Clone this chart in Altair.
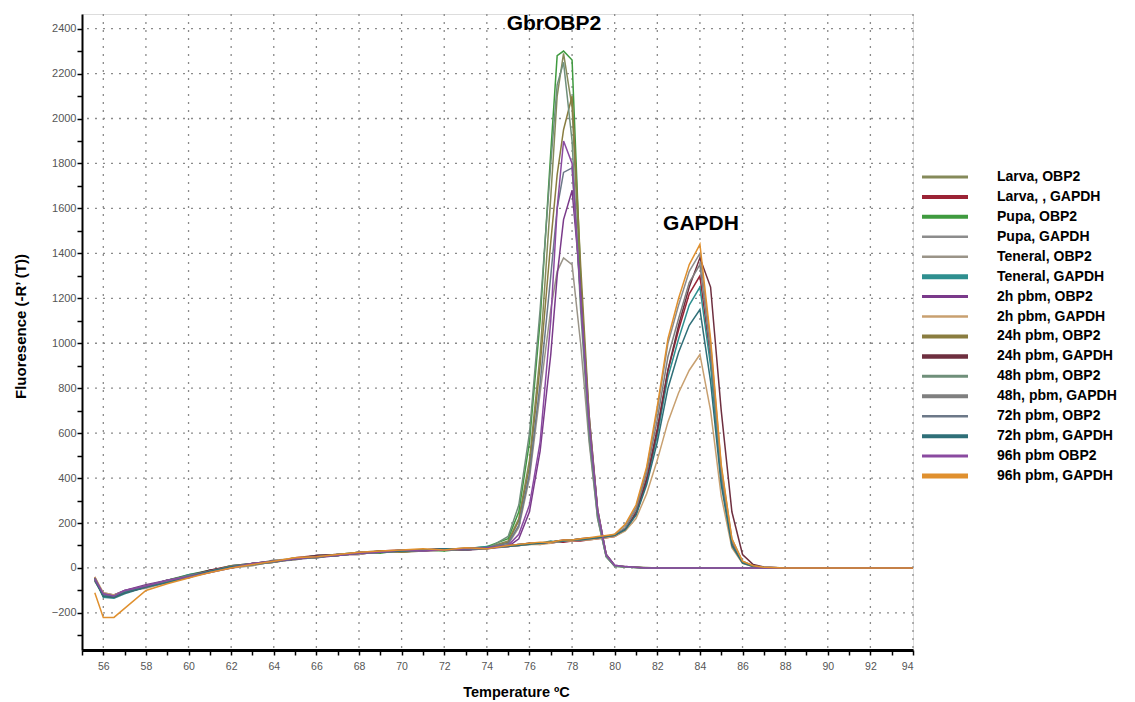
import altair as alt
import pandas as pd

# Temperature grid (°C) at which the curves were read
temps = [55.6, 56, 56.5, 57, 58, 59, 60, 61, 62, 63, 64, 65, 66, 67, 68, 69, 70, 71, 72, 73, 74, 75,
         75.5, 76, 76.5, 77, 77.3, 77.6, 78, 78.4, 78.8, 79.2, 79.6, 80,
         80.5, 81, 81.5, 82, 82.5, 83, 83.5, 84, 84.5, 85, 85.5, 86, 86.5, 87, 88, 90, 92, 94]

series_names = [
    "Larva, OBP2", "Larva, , GAPDH", "Pupa, OBP2", "Pupa, GAPDH",
    "Teneral, OBP2", "Teneral, GAPDH", "2h pbm, OBP2", "2h pbm, GAPDH",
    "24h pbm, OBP2", "24h pbm, GAPDH", "48h pbm, OBP2", "48h, pbm, GAPDH",
    "72h pbm, OBP2", "72h pbm, GAPDH", "96h pbm OBP2", "96h pbm, GAPDH",
]

series_colors = [
    "#858a5a", "#9b2335", "#3f9a3f", "#8c8c8c",
    "#9a9488", "#2e8f8f", "#7a3a8a", "#c8a070",
    "#8a7d40", "#6e2f3f", "#6f8f7a", "#7f7f7f",
    "#6c7888", "#2f6f78", "#8a4aa0", "#e0902e",
]
# stroke width of each legend swatch
swatch_widths = [3, 4, 4, 2.5, 2.5, 5, 3, 2.5, 4, 4.5, 3, 4, 2.5, 4, 3, 5]

larva_obp2 = [-50,-115,-125,-105,-85,-60,-35,-15,5,15,30,40,50,55,65,70,72,78,80,82,90,120,
              220,480,950,1650,2100,2290,2050,1250,650,260,60,10,
              5,3,2,0,0,0,0,0,0,0,0,0,0,0,0,0,0,0]
larva_gapdh = [-40,-120,-130,-110,-80,-65,-40,-10,10,20,25,45,55,60,60,75,80,75,85,80,90,95,
               100,105,110,110,115,115,120,120,125,130,135,140,
               170,250,400,620,880,1060,1220,1300,930,400,110,25,8,2,0,0,0,0]
pupa_obp2 = [-45,-125,-130,-110,-85,-55,-30,-10,0,20,25,45,45,60,70,65,80,80,75,85,95,130,
             250,560,1100,1850,2280,2300,2260,1300,620,230,50,8,
             4,2,1,0,0,0,0,0,0,0,0,0,0,0,0,0,0,0]
pupa_gapdh = [-55,-110,-120,-100,-80,-60,-35,-15,5,15,35,40,50,60,70,75,70,80,80,90,85,100,
              100,110,105,115,120,120,125,125,130,135,140,150,
              190,270,440,700,1000,1170,1320,1400,1000,450,130,30,10,3,0,0,0,0]
teneral_obp2 = [-60,-120,-125,-105,-90,-65,-40,-20,0,10,30,35,55,60,60,75,75,75,85,80,85,105,
                180,400,780,1150,1320,1380,1350,1000,560,220,50,10,
                5,2,0,0,0,0,0,0,0,0,0,0,0,0,0,0,0,0]
teneral_gapdh = [-50,-130,-135,-115,-85,-60,-30,-15,10,20,30,40,55,55,65,70,80,80,80,85,95,100,
                 105,105,110,120,115,120,125,130,130,135,140,145,
                 170,240,380,590,850,1020,1170,1250,900,390,100,25,8,2,0,0,0,0]
h2_obp2 = [-45,-115,-120,-100,-75,-55,-45,-10,0,20,30,40,45,55,70,70,75,80,85,80,85,95,
           130,250,520,950,1300,1550,1680,1250,680,250,60,12,
           6,3,0,0,0,0,0,0,0,0,0,0,0,0,0,0,0,0]
h2_gapdh = [-40,-110,-120,-105,-80,-60,-35,-20,5,15,30,45,50,55,65,70,70,80,80,85,90,95,
            100,105,105,110,115,120,120,125,125,130,135,140,
            165,220,330,480,650,780,880,950,700,320,90,20,6,2,0,0,0,0]
h24_obp2 = [-55,-120,-130,-110,-80,-65,-35,-15,10,15,25,40,50,55,65,75,70,75,80,85,90,115,
            210,450,900,1450,1750,1950,2100,1350,680,260,60,10,
            5,3,0,0,0,0,0,0,0,0,0,0,0,0,0,0,0,0]
h24_gapdh = [-45,-125,-130,-110,-85,-55,-35,-10,5,20,30,40,55,60,65,75,75,80,85,80,90,100,
             105,110,110,115,120,125,125,130,135,135,140,145,
             175,240,390,610,880,1080,1250,1380,1250,700,250,60,15,4,0,0,0,0]
h48_obp2 = [-50,-120,-125,-105,-85,-60,-40,-15,5,15,30,40,45,60,65,70,75,80,80,85,85,140,
            280,600,1150,1800,2150,2250,1900,1150,580,220,50,8,
            4,2,0,0,0,0,0,0,0,0,0,0,0,0,0,0,0,0]
h48_gapdh = [-50,-115,-125,-105,-80,-60,-35,-15,5,20,30,40,50,60,65,70,75,80,80,85,90,100,
             105,110,110,115,115,120,125,130,130,135,140,145,
             180,260,420,660,940,1110,1270,1350,960,420,120,28,9,3,0,0,0,0]
h72_obp2 = [-45,-120,-125,-105,-80,-55,-35,-15,5,15,25,40,50,55,70,70,75,75,85,80,90,110,
            190,420,820,1300,1600,1760,1780,1200,620,240,55,10,
            5,2,0,0,0,0,0,0,0,0,0,0,0,0,0,0,0,0]
h72_gapdh = [-55,-125,-130,-110,-85,-65,-40,-15,5,15,30,40,50,55,65,70,75,80,85,85,90,95,
             100,105,110,115,120,120,125,125,130,135,140,145,
             170,235,370,560,800,960,1080,1150,830,370,100,22,7,2,0,0,0,0]
h96_obp2 = [-50,-115,-125,-100,-80,-55,-40,-20,0,20,30,40,50,55,65,70,80,75,80,85,90,100,
            150,280,560,1100,1600,1900,1800,1200,650,260,60,12,
            6,3,0,0,0,0,0,0,0,0,0,0,0,0,0,0,0,0]
h96_gapdh = [-110,-220,-220,-180,-100,-70,-45,-20,0,15,30,45,50,60,70,75,80,85,80,90,85,100,
             105,110,115,115,120,125,125,130,135,140,145,150,
             195,280,450,720,1020,1200,1350,1440,1020,460,130,30,10,3,0,0,0,0]

series_values = [
    larva_obp2, larva_gapdh, pupa_obp2, pupa_gapdh,
    teneral_obp2, teneral_gapdh, h2_obp2, h2_gapdh,
    h24_obp2, h24_gapdh, h48_obp2, h48_gapdh,
    h72_obp2, h72_gapdh, h96_obp2, h96_gapdh,
]

# annotation labels
ann_x = [77.15, 84.05]
ann_y = [2422, 1532]
ann_text = ["GbrOBP2", "GAPDH"]

# axis tick / grid values
x_ticks = list(range(55, 95))
y_ticks = list(range(-300, 2401, 100))
x_grid = list(range(56, 95, 2))
y_grid = list(range(-200, 2401, 200))

rows = []
for name, vals in zip(series_names, series_values):
    assert len(vals) == len(temps), name
    for t, v in zip(temps, vals):
        rows.append({"Temperature": t, "Fluorescence": v, "Sample": name})
df = pd.DataFrame(rows)
ann_df = pd.DataFrame({"x": ann_x, "y": ann_y, "t": ann_text})
leg_df = pd.DataFrame({"Sample": series_names, "w": swatch_widths})

FONT = "Liberation Sans"
x_scale = alt.Scale(domain=[55, 94], nice=False, zero=False)
y_scale = alt.Scale(domain=[-365, 2465], nice=False, zero=False)
color_scale = alt.Scale(domain=series_names, range=series_colors)

x_axis = alt.Axis(
    values=x_ticks, labelOverlap=False,
    labelExpr="datum.value % 2 === 0 ? datum.label : ''",
    title="Temperature ºC",
    titleFont=FONT, titleFontSize=14.5, titleFontWeight="bold", titleColor="black",
    titleX=434, titleY=42, titleBaseline="middle", titleAlign="center",
    labelFont=FONT, labelFontSize=10.5, labelColor="#555555", labelPadding=6,
    domainColor="black", domainWidth=3, tickColor="black", tickWidth=1.5, tickSize=5,
    grid=False,
)
y_axis = alt.Axis(
    values=y_ticks, labelOverlap=False,
    labelExpr="datum.value % 200 === 0 ? datum.label : ''",
    format="d",
    title="Fluoresence (-R’ (T))",
    titleFont=FONT, titleFontSize=15, titleFontWeight="bold", titleColor="black",
    titleAngle=270, titleX=-62, titleY=312, titleBaseline="middle", titleAlign="center",
    labelFont=FONT, labelFontSize=11, labelColor="#555555", labelPadding=1,
    domainColor="black", domainWidth=2, tickColor="black", tickWidth=1.5, tickSize=5,
    grid=False,
)

grid_style = dict(color="#8a8a8a", strokeDash=[2, 6], strokeWidth=1.3)
grid_x = alt.Chart(pd.DataFrame({"g": x_grid})).mark_rule(**grid_style).encode(
    x=alt.X("g:Q", scale=x_scale, axis=x_axis)
)
grid_y = alt.Chart(pd.DataFrame({"g": y_grid})).mark_rule(**grid_style).encode(
    y=alt.Y("g:Q", scale=y_scale, axis=y_axis)
)

lines = alt.Chart(df).mark_line(strokeWidth=1.5).encode(
    x=alt.X("Temperature:Q", scale=x_scale, axis=x_axis),
    y=alt.Y("Fluorescence:Q", scale=y_scale, axis=y_axis),
    color=alt.Color("Sample:N", sort=series_names, scale=color_scale, legend=None),
)

labels = alt.Chart(ann_df).mark_text(
    font=FONT, fontSize=21, fontWeight="bold", color="black", baseline="middle", align="center"
).encode(
    x=alt.X("x:Q", scale=x_scale, axis=x_axis),
    y=alt.Y("y:Q", scale=y_scale, axis=y_axis),
    text="t:N",
)

# legend drawn beside the plot
leg_y = alt.Y("Sample:N", sort=series_names,
              scale=alt.Scale(type="point", domain=series_names, range=[163, 462], padding=0),
              axis=None)
leg_rules = alt.Chart(leg_df).mark_rule().encode(
    x=alt.value(840), x2=alt.value(886),
    y=leg_y,
    color=alt.Color("Sample:N", sort=series_names, scale=color_scale, legend=None),
    strokeWidth=alt.StrokeWidth("w:Q", scale=None, legend=None),
)
leg_text = alt.Chart(leg_df).mark_text(
    font=FONT, fontSize=14, fontWeight="bold", color="black", align="left", baseline="middle"
).encode(
    x=alt.value(915),
    y=leg_y,
    text="Sample:N",
)

main = alt.layer(grid_x, grid_y, lines, labels)
legend = alt.layer(leg_rules, leg_text)

chart = alt.layer(main, legend).resolve_scale(y="independent").properties(
    width=831, height=636,
    autosize=alt.AutoSizeParams(type="none"),
    padding={"left": 82, "top": 14, "right": 222, "bottom": 52},
).configure_view(stroke=None).configure(background="white")

chart.save("out.html", embed_options={"renderer": "svg", "actions": False})
